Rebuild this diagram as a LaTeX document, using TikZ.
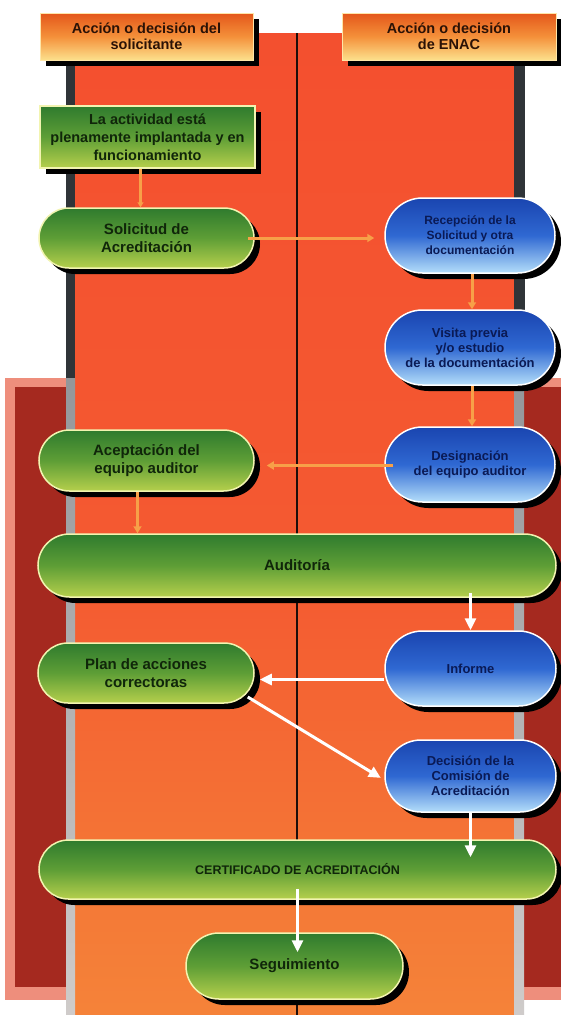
\documentclass[tikz,border=0pt]{standalone}
\usepackage{fontspec}
\setmainfont{Liberation Sans}
\usetikzlibrary{shapes.misc,shadows,arrows.meta}

\definecolor{bgA}{HTML}{F3462D}
\definecolor{bgB}{HTML}{F45A31}
\definecolor{bgC}{HTML}{F47736}
\definecolor{bgD}{HTML}{F6983F}
\definecolor{bgE}{HTML}{F9BD4B}
\definecolor{panelPink}{HTML}{EE8E7C}
\definecolor{panelRed}{HTML}{A5291F}
\definecolor{barDark}{HTML}{2F3438}
\definecolor{barMid}{HTML}{767C82}
\definecolor{barLight}{HTML}{EDE6E2}
\definecolor{hdrTop}{HTML}{E4571A}
\definecolor{hdrMid}{HTML}{F4903A}
\definecolor{hdrBot}{HTML}{FCE08C}
\definecolor{hdrEdge}{HTML}{FFE6A8}
\definecolor{hdrText}{HTML}{2B1206}
\definecolor{gTop}{HTML}{2F7B2E}
\definecolor{gMid}{HTML}{5E9E36}
\definecolor{gBot}{HTML}{B5CF4C}
\definecolor{gEdge}{HTML}{F2F4B0}
\definecolor{gText}{HTML}{10260A}
\definecolor{bTop}{HTML}{1A45B0}
\definecolor{bMid}{HTML}{2F68D2}
\definecolor{bBot}{HTML}{B4DEFA}
\definecolor{bText}{HTML}{0A1A55}
\definecolor{conOrange}{HTML}{F7A048}
\definecolor{midLine}{HTML}{1E0E0A}

\pgfdeclareverticalshading{colbg}{100bp}{color(0bp)=(bgE); color(12bp)=(bgD); color(32bp)=(bgC); color(47bp)=(bgB); color(100bp)=(bgA)}
\pgfdeclareverticalshading{barbg}{100bp}{color(0bp)=(barLight); color(60bp)=(barMid!60!barLight); color(100bp)=(barMid)}

\begin{document}
\begin{tikzpicture}[x=1pt,y=-1pt,
  every node/.style={align=center, inner sep=0pt},
  shad/.style={drop shadow={shadow xshift=6pt, shadow yshift=-6pt, fill=black, opacity=1}},
  hdr/.style={rectangle, shad, minimum width=213pt, minimum height=47pt,
    top color=hdrTop, bottom color=hdrBot, middle color=hdrMid,
    draw=hdrEdge, line width=1pt, text=hdrText,
    font=\fontsize{14.5}{16}\selectfont\bfseries},
  gbox/.style={rectangle, shad, top color=gTop, bottom color=gBot, middle color=gMid,
    draw=gEdge, line width=1.5pt, text=gText,
    font=\fontsize{15}{18}\selectfont\bfseries},
  gpill/.style={gbox, rounded rectangle},
  bpill/.style={rounded rectangle, shad, top color=bTop, bottom color=bBot, middle color=bMid,
    draw=white, line width=1.5pt, text=bText, minimum width=170pt, minimum height=75pt,
    font=\fontsize{13}{15}\selectfont\bfseries},
  oarrow/.style={draw=conOrange, line width=3pt, -{Triangle[length=7pt,width=8pt]}},
  warrow/.style={draw=white, line width=3pt, -{Triangle[length=12pt,width=11pt]}}
]
\useasboundingbox (0,0) rectangle (561,1015);
\fill[white] (0,0) rectangle (561,1015);

% dark red side panel
\fill[panelPink] (5,378) rectangle (561,1000);
\fill[panelRed] (15,387) rectangle (561,987);

% central column
\fill[shading=colbg] (75,33) rectangle (514,1015);
\fill[barDark] (66,33) rectangle (75,378);
\fill[barDark] (514,33) rectangle (525,378);
\fill[shading=barbg] (66,378) rectangle (75,1015);
\fill[shading=barbg] (514,378) rectangle (524,1015);
\draw[midLine, line width=2pt] (297,33) -- (297,1015);

% headers
\node[hdr] (h1) at (146.5,36.5) {Acción o decisión del\\solicitante};
\node[hdr, minimum width=214pt] (h2) at (449,36.5) {Acción o decisión\\de ENAC};

% left column (applicant)
\node[gbox, minimum width=215pt, minimum height=62pt, font=\fontsize{14.5}{18}\selectfont\bfseries] (n1) at (147.5,137) {La actividad está\\plenamente implantada y en\\funcionamiento};
\node[gpill, minimum width=215pt, minimum height=60pt] (sol) at (146.5,238) {Solicitud de\\Acreditación};
\node[gpill, minimum width=215pt, minimum height=61pt] (ace) at (146.5,460.5) {Aceptación del\\equipo auditor};
\node[gpill, minimum width=216pt, minimum height=60pt] (plan) at (146,673) {Plan de acciones\\correctoras};

% right column (ENAC)
\node[bpill, font=\fontsize{12}{15}\selectfont\bfseries] (rec) at (470,235.5) {Recepción de la\\Solicitud y otra\\documentación};
\node[bpill] (vis) at (470,347.5) {Visita previa\\y/o estudio\\de la documentación};
\node[bpill] (des) at (470,464.5) {Designación\\del equipo auditor};
\node[bpill, minimum width=171pt] (inf) at (470.5,668.5) {Informe};
\node[bpill, minimum width=171pt, minimum height=72pt] (dec) at (470.5,776) {Decisión de la\\Comisión de\\Acreditación};

% wide nodes
\node[gpill, minimum width=518pt, minimum height=63pt] (aud) at (297,565.5) {Auditoría};
\node[gpill, minimum width=517pt, minimum height=59pt, font=\fontsize{12.5}{15}\selectfont\bfseries] (cert) at (297.5,869.5) {CERTIFICADO DE ACREDITACIÓN};
\node[gpill, minimum width=217pt, minimum height=66pt] (seg) at (294.5,966) {Seguimiento};

% orange connectors
\draw[oarrow, -{Triangle[length=5pt,width=6pt]}] ([xshift=-7pt]n1.south) -- ([xshift=-7pt]n1.south |- sol.north);
\draw[oarrow, shorten >=10pt] ([xshift=-7pt]sol.east) -- (sol.east -| rec.west);
\draw[oarrow] ([xshift=2pt]rec.south) -- ([xshift=2pt]vis.north);
\draw[oarrow] ([xshift=2pt]vis.south) -- ([xshift=2pt]des.north);
\draw[oarrow, shorten >=12pt] ([xshift=9pt,yshift=-1pt]des.west) -- ([yshift=-1pt]des.west -| ace.east);
\draw[oarrow] ([xshift=-9pt]ace.south) -- ([xshift=-9pt]ace.south |- aud.north);

% white connectors
\draw[warrow] ([yshift=5pt]aud.south -| inf.north) -- (inf.north);
\draw[warrow, shorten >=5pt] ([yshift=-11pt]inf.west) -- ([yshift=-11pt]inf.west -| plan.east);
\draw[warrow, shorten >=4pt] ([xshift=-7pt,yshift=-24pt]plan.east) -- ([yshift=-4pt]dec.west);
\draw[warrow] (dec.south) -- ([yshift=-18pt]dec.south |- cert.north);
\draw[warrow] ([yshift=11pt]cert.south) -- ([yshift=-20pt]cert.south |- seg.north);
\end{tikzpicture}
\end{document}
